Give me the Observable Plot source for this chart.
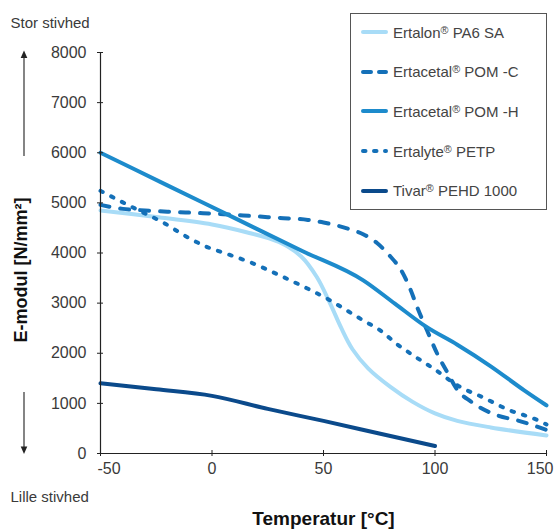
<!DOCTYPE html>
<html>
<head>
<meta charset="utf-8">
<script src="https://cdn.jsdelivr.net/npm/d3@7"></script>
<script src="https://cdn.jsdelivr.net/npm/@observablehq/plot@0.6"></script>
<style>
  body { margin: 0; background: #fff; }
  #wrap { position: relative; width: 556px; height: 529px; font-family: "Liberation Sans", Arial, sans-serif; }
  #legend { position: absolute; left: 350px; top: 13px; width: 197px; height: 197px; box-sizing: border-box;
            border: 1px solid #555; background: #fff; padding-top: 0; }
  .item { height: 39.6px; display: flex; align-items: center; font-size: 15px; color: #444; white-space: nowrap; }
  .item:first-child { margin-top: -1.5px; }
  .item svg { margin-left: 10px; margin-right: 5px; flex: none; }
  .item sup { font-size: 0.72em; vertical-align: 0.38em; line-height: 0; }
  #deco { position: absolute; left: 0; top: 0; pointer-events: none; }
</style>
</head>
<body>
<div id="wrap"></div>
<script>
// ---- data ----
const seriesNames = ["Ertalon® PA6 SA", "Ertacetal® POM -C", "Ertacetal® POM -H", "Ertalyte® PETP", "Tivar® PEHD 1000"];

const pa6Temp = [-50, -25, 0, 15, 30, 40, 47, 53, 58, 63, 70, 80, 90, 100, 110, 125, 150];
const pa6Mod  = [4850, 4720, 4570, 4420, 4220, 3930, 3520, 2990, 2500, 2080, 1700, 1330, 1030, 800, 650, 520, 360];

const pomcTemp = [-50, -40, -30, -20, -7, 5, 17, 30, 43, 50, 62, 68, 74, 80, 84.5, 89, 92, 96.5, 101, 105.5, 110, 116, 128, 137, 150];
const pomcMod  = [4960, 4880, 4850, 4825, 4800, 4775, 4740, 4700, 4660, 4610, 4470, 4370, 4200, 3930, 3680, 3270, 2920, 2450, 1990, 1620, 1270, 1040, 760, 660, 470];

const pomhTemp = [-50, -20, 10, 40, 68, 82, 96, 110, 125, 140, 150];
const pomhMod  = [6000, 5350, 4700, 4050, 3450, 2990, 2530, 2170, 1740, 1260, 960];

const petpTemp = [-50, -40, -31, -22, -12, -3, 7.5, 18, 32, 44, 53, 60.6, 68, 75.6, 83, 90.5, 99.5, 110, 122, 132, 146, 150];
const petpMod  = [5240, 5010, 4810, 4610, 4340, 4135, 3970, 3800, 3520, 3265, 3055, 2850, 2650, 2450, 2180, 1950, 1690, 1360, 1110, 890, 665, 580];

const tivarTemp = [-50, -25, 0, 25, 50, 75, 100];
const tivarMod  = [1400, 1280, 1150, 890, 650, 400, 150];

const xTicks = [-50, 0, 50, 100, 150];
const yTicks = [0, 1000, 2000, 3000, 4000, 5000, 6000, 7000, 8000];
const xTitle = "Temperatur [°C]";
const yTitle = "E-modul [N/mm²]";
const topNote = "Stor stivhed";
const bottomNote = "Lille stivhed";

// ---- styles ----
const colors = ["#a8dcf7", "#1470b8", "#1d8bcc", "#1470b8", "#0b4a8b"];
const curves = ["catmull-rom", "monotone-x", "monotone-x", "monotone-x", "monotone-x"];
const dashes = [null, "9,11", null, "2.5,9.5", null];
const legendDashes = [null, "8,8", null, "2.5,8.5", null];

const lineOpts = (i) => ({
  stroke: colors[i], strokeWidth: 4, curve: curves[i],
  strokeLinecap: "round", strokeLinejoin: "round",
  ...(dashes[i] ? {strokeDasharray: dashes[i]} : {})
});

const inner = xTicks.slice(1, -1);
const chart = Plot.plot({
  width: 556, height: 529,
  marginLeft: 100, marginRight: 10, marginTop: 52, marginBottom: 76,
  x: {domain: [xTicks[0], xTicks[xTicks.length - 1]]},
  y: {domain: [yTicks[0], yTicks[yTicks.length - 1]]},
  style: {fontFamily: '"Liberation Sans", Arial, sans-serif', fontSize: "16px", color: "#3a3a3a", background: "#fff"},
  marks: [
    Plot.line(pa6Mod,   {x: pa6Temp,   y: pa6Mod,   ...lineOpts(0)}),
    Plot.line(petpMod,  {x: petpTemp,  y: petpMod,  ...lineOpts(3)}),
    Plot.line(pomcMod,  {x: pomcTemp,  y: pomcMod,  ...lineOpts(1)}),
    Plot.line(pomhMod,  {x: pomhTemp,  y: pomhMod,  ...lineOpts(2)}),
    Plot.line(tivarMod, {x: tivarTemp, y: tivarMod, ...lineOpts(4)}),
    Plot.frame({anchor: "left", stroke: "#222", strokeWidth: 1.2}),
    Plot.frame({anchor: "bottom", stroke: "#222", strokeWidth: 1.2}),
    // tick marks crossing the axes
    Plot.axisY(yTicks, {tickSize: 6, dx: 3, tickFormat: () => "", label: null, stroke: "#222"}),
    Plot.axisX(xTicks, {tickSize: 6, dy: -3, tickFormat: () => "", label: null, stroke: "#222"}),
    // tick labels
    Plot.axisY(yTicks, {tickSize: 0, tickPadding: 14, tickFormat: d => String(d), label: null, fill: "#3a3a3a"}),
    Plot.axisX(inner, {tickSize: 0, tickPadding: 9, tickFormat: d => String(d), label: null, fill: "#3a3a3a"}),
    Plot.text([xTicks[0]], {x: d => d, frameAnchor: "bottom", text: d => String(d), textAnchor: "start", lineAnchor: "top", dx: -3, dy: 9, fill: "#3a3a3a", fontSize: 16}),
    Plot.text([xTicks[xTicks.length - 1]], {x: d => d, frameAnchor: "bottom", text: d => String(d), textAnchor: "end", lineAnchor: "top", dx: 7, dy: 9, fill: "#3a3a3a", fontSize: 16}),
    // titles and notes
    Plot.text([yTitle], {frameAnchor: "left", text: d => d, rotate: -90, textAnchor: "middle", lineAnchor: "middle", dx: -79, dy: 17, fontWeight: "bold", fontSize: 18, fill: "#111"}),
    Plot.text([xTitle], {frameAnchor: "bottom", text: d => d, textAnchor: "middle", lineAnchor: "middle", dy: 65, fontWeight: "bold", fontSize: 19, fill: "#111"}),
    Plot.text([topNote], {frameAnchor: "top-left", text: d => d, textAnchor: "start", lineAnchor: "middle", dx: -90, dy: -29, fontSize: 15, fill: "#3a3a3a"}),
    Plot.text([bottomNote], {frameAnchor: "bottom-left", text: d => d, textAnchor: "start", lineAnchor: "middle", dx: -90, dy: 44, fontSize: 15, fill: "#3a3a3a"})
  ]
});

const wrap = document.getElementById("wrap");
wrap.appendChild(chart);

// decorative stiffness arrows
const ns = "http://www.w3.org/2000/svg";
const deco = document.createElementNS(ns, "svg");
deco.setAttribute("id", "deco");
deco.setAttribute("width", 556);
deco.setAttribute("height", 529);
deco.innerHTML = `
  <line x1="24" y1="156" x2="24" y2="57" stroke="#333" stroke-width="1.2"/>
  <polygon points="20.7,58 27.3,58 24,50.5" fill="#222"/>
  <line x1="24" y1="392" x2="24" y2="447" stroke="#333" stroke-width="1.2"/>
  <polygon points="20.7,446.5 27.3,446.5 24,454" fill="#222"/>`;
wrap.appendChild(deco);

// legend
const legend = document.createElement("div");
legend.id = "legend";
seriesNames.forEach((name, i) => {
  const row = document.createElement("div");
  row.className = "item";
  const dash = legendDashes[i] ? `stroke-dasharray="${legendDashes[i]}"` : "";
  const [brand, rest] = name.split("®");
  row.innerHTML = `<svg width="27" height="8"><line x1="2" y1="4" x2="25" y2="4" stroke="${colors[i]}" stroke-width="4" stroke-linecap="round" ${dash}/></svg><span>${brand}<sup>®</sup>${rest}</span>`;
  legend.appendChild(row);
});
wrap.appendChild(legend);
</script>
</body>
</html>
